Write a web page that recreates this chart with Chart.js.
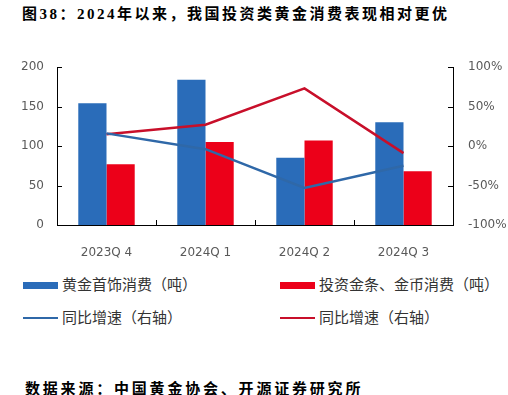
<!DOCTYPE html>
<html>
<head>
<meta charset="utf-8">
<script src="https://cdn.jsdelivr.net/npm/chart.js@4"></script>
<style>
  body { margin:0; width:508px; height:395px; background:#fff; position:relative; overflow:hidden; }
  .title, .source { position:absolute; font:bold 15px "Liberation Serif","Noto Sans CJK SC",serif; letter-spacing:2.5px; color:#000; white-space:nowrap; }
  .title { left:22px; top:2px; }
  .source { left:25px; top:377px; letter-spacing:2.8px; }
  #wrap { position:absolute; left:0; top:0; width:508px; height:260px; }
  .lg { position:absolute; font:15px "Noto Sans CJK SC",sans-serif; color:#333; white-space:nowrap; line-height:20px; }
  .sw { position:absolute; }
</style>
</head>
<body>
<div class="title">图38：2024年以来，我国投资类黄金消费表现相对更优</div>
<div id="wrap"><canvas id="mainChart" width="508" height="260"></canvas></div>
<div id="legend"></div>
<div class="source">数据来源：中国黄金协会、开源证券研究所</div>
<script>
const quarters = ["2023Q 4", "2024Q 1", "2024Q 2", "2024Q 3"];
const jewelry = [154, 184, 85, 130];
const investment = [77, 105, 107, 68];
const jewelryYoY = [16, -4, -53, -25];
const investYoY = [15, 27, 73, -9];
const leftTicks = [0, 50, 100, 150, 200];
const rightTicks = [-100, -50, 0, 50, 100];

const BLUE = "#2a6cb9", RED = "#ec0019", BLUE_LINE = "#2f68a8", RED_LINE = "#c80f2a";

// ticks drawn inside the plot, like the original
const innerTicks = {
  id: "innerTicks",
  afterDraw(chart) {
    const c = chart.ctx, x = chart.scales.x, yl = chart.scales.y, yr = chart.scales.y1;
    c.save();
    c.strokeStyle = "#000";
    c.lineWidth = 1;
    c.beginPath();
    for (let i = 0; i < quarters.length - 1; i++) {
      const px = Math.round((x.getPixelForValue(i) + x.getPixelForValue(i + 1)) / 2) + 0.5;
      c.moveTo(px, x.top); c.lineTo(px, x.top - 5);
    }
    leftTicks.forEach(v => {
      const py = Math.round(yl.getPixelForValue(v)) + 0.5;
      c.moveTo(yl.right, py); c.lineTo(yl.right + 5, py);
    });
    rightTicks.forEach(v => {
      const py = Math.round(yr.getPixelForValue(v)) + 0.5;
      c.moveTo(yr.left, py); c.lineTo(yr.left - 5, py);
    });
    c.stroke();
    c.restore();
  }
};

const tickFont = {family: "DejaVu Sans", size: 12};

new Chart(document.getElementById("mainChart"), {
  type: "bar",
  data: {
    labels: quarters,
    datasets: [
      {type: "line", label: "同比增速（右轴）", data: jewelryYoY, yAxisID: "y1", borderColor: BLUE_LINE, borderWidth: 2.5, pointRadius: 0, tension: 0, order: 0},
      {type: "line", label: "同比增速（右轴）", data: investYoY, yAxisID: "y1", borderColor: RED_LINE, borderWidth: 2.5, pointRadius: 0, tension: 0, order: 0},
      {label: "黄金首饰消费（吨）", data: jewelry, backgroundColor: BLUE, yAxisID: "y", order: 1, categoryPercentage: 0.57, barPercentage: 1},
      {label: "投资金条、金币消费（吨）", data: investment, backgroundColor: RED, yAxisID: "y", order: 1, categoryPercentage: 0.57, barPercentage: 1}
    ]
  },
  options: {
    responsive: false,
    animation: false,
    layout: {padding: {top: 67, left: 0, right: 0, bottom: 0}},
    plugins: {legend: {display: false}, tooltip: {enabled: false}},
    scales: {
      x: {
        grid: {display: false},
        border: {display: true, color: "#000", width: 1},
        ticks: {color: "#595959", font: tickFont, padding: 13, maxRotation: 0},
        afterFit: s => { s.height = 35; }
      },
      y: {
        position: "left", min: 0, max: 200,
        grid: {display: false, drawTicks: false},
        border: {display: true, color: "#000", width: 1},
        afterBuildTicks: s => { s.ticks = leftTicks.map(v => ({value: v})); },
        ticks: {color: "#595959", font: tickFont, padding: 13},
        afterFit: s => { s.width = 57; }
      },
      y1: {
        position: "right", min: -100, max: 100,
        grid: {display: false, drawTicks: false},
        border: {display: true, color: "#000", width: 1},
        afterBuildTicks: s => { s.ticks = rightTicks.map(v => ({value: v})); },
        ticks: {color: "#595959", font: tickFont, padding: 15, callback: v => v + "%"},
        afterFit: s => { s.width = 55; }
      }
    }
  },
  plugins: [innerTicks]
});

const legendItems = [
  {label: "黄金首饰消费（吨）", color: BLUE, bar: true, x: 23, y: 285},
  {label: "投资金条、金币消费（吨）", color: RED, bar: true, x: 280, y: 285},
  {label: "同比增速（右轴）", color: BLUE_LINE, bar: false, x: 23, y: 318},
  {label: "同比增速（右轴）", color: RED_LINE, bar: false, x: 280, y: 318}
];
const legend = document.getElementById("legend");
legendItems.forEach(it => {
  const sw = document.createElement("div");
  sw.className = "sw";
  const h = it.bar ? 7 : 2;
  sw.style.cssText = `left:${it.x}px;top:${it.y - h / 2}px;width:35px;height:${h}px;background:${it.color}`;
  legend.appendChild(sw);
  const t = document.createElement("div");
  t.className = "lg";
  t.style.left = (it.x + 39) + "px";
  t.style.top = (it.y - 11) + "px";
  t.textContent = it.label;
  legend.appendChild(t);
});
</script>
</body>
</html>
